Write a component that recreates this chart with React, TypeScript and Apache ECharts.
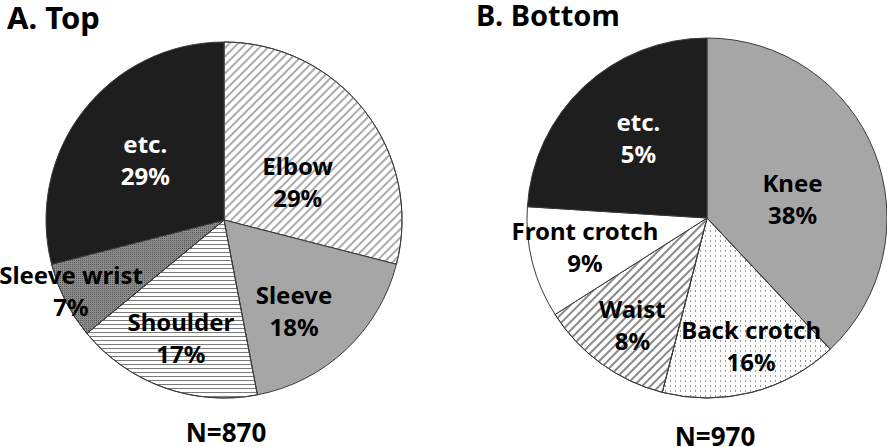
import React, { useEffect, useRef } from "react";
import * as echarts from "echarts";

// ---- data ----
const topNames = ["Elbow", "Sleeve", "Shoulder", "Sleeve wrist", "etc."];
const topShare = [29, 18, 17, 7, 29];
const topPercentLabels = ["29%", "18%", "17%", "7%", "29%"];

const bottomNames = ["Knee", "Back crotch", "Waist", "Front crotch", "etc."];
// slice sizes as drawn in the picture
const bottomShare = [38, 16, 12, 10, 24];
// percentages as printed on the picture
const bottomPercentLabels = ["38%", "16%", "8%", "9%", "5%"];

const titles = ["A. Top", "B. Bottom"];
const sampleSizes = ["N=870", "N=970"];

// ---- styles ----
const FONT = "'Noto Sans', 'Open Sans', sans-serif";

const diagDecal = (color: string) => ({
  symbol: "rect",
  symbolSize: 1,
  color,
  dashArrayX: [1, 0],
  dashArrayY: [1.1, 3.4],
  rotation: -Math.PI / 4,
  maxTileWidth: 512,
  maxTileHeight: 512,
});
const hLineDecal = {
  symbol: "rect",
  symbolSize: 1,
  color: "#7a7a7a",
  dashArrayX: [1, 0],
  dashArrayY: [1, 3],
  rotation: 0,
};
const sparseDotDecal = {
  symbol: "rect",
  symbolSize: 1,
  color: "#9a9a9a",
  dashArrayX: [1, 3.5],
  dashArrayY: [1.5, 3],
  rotation: 0,
};
const denseDotDecal = {
  symbol: "rect",
  symbolSize: 1,
  color: "#555555",
  dashArrayX: [1, 1],
  dashArrayY: [1, 1],
  rotation: 0,
};

const topStyles = [
  { color: "#ffffff", decal: diagDecal("#ababab") },
  { color: "#a6a6a6" },
  { color: "#ffffff", decal: hLineDecal },
  { color: "#8c8c8c", decal: denseDotDecal },
  { color: "#1e1e1e" },
];
const bottomStyles = [
  { color: "#a6a6a6" },
  { color: "#ffffff", decal: sparseDotDecal },
  { color: "#ffffff", decal: diagDecal("#8a8a8a") },
  { color: "#ffffff" },
  { color: "#1e1e1e" },
];
const topLabelColors = ["#000", "#000", "#000", "#000", "#fff"];
const bottomLabelColors = ["#000", "#000", "#000", "#000", "#fff"];

// label offsets from the default inside position
const topLabelShift = [
  [1, 18],
  [7, 23],
  [-12, 31],
  [-71, 29],
  [-6, -4],
];
const bottomLabelShift = [
  [-1, 15],
  [21, 37],
  [-20, 31],
  [-32, 5],
  [-5, -13],
];

function buildSeries(
  names: string[],
  share: number[],
  pct: string[],
  styles: any[],
  labelColors: string[],
  shift: number[][],
  center: number[],
  radius: number
) {
  return {
    type: "pie",
    center,
    radius,
    startAngle: 90,
    clockwise: true,
    avoidLabelOverlap: false,
    silent: true,
    itemStyle: { borderColor: "#3a3a3a", borderWidth: 1 },
    label: {
      show: true,
      position: "inside",
      fontFamily: FONT,
      fontWeight: "bold",
      fontSize: 24,
      lineHeight: 32,
      align: "center",
    },
    labelLine: { show: false },
    labelLayout: (p: any) => ({ dx: shift[p.dataIndex][0], dy: shift[p.dataIndex][1] }),
    data: names.map((n, i) => ({
      name: n,
      value: share[i],
      itemStyle: styles[i],
      label: {
        formatter: `${n}\n${pct[i]}`,
        color: labelColors[i],
      },
    })),
  };
}

export default function App() {
  const ref = useRef<HTMLDivElement>(null);
  useEffect(() => {
    if (!ref.current) return;
    const chart = echarts.init(ref.current, undefined, { renderer: "svg" });
    chart.setOption({
      animation: false,
      backgroundColor: "#ffffff",
      title: [
        {
          text: titles[0],
          left: 7,
          top: 1,
          padding: 0,
          textStyle: { fontFamily: FONT, fontWeight: "bold", fontSize: 31, color: "#000" },
        },
        {
          text: titles[1],
          left: 476,
          top: 0,
          padding: 0,
          textStyle: { fontFamily: FONT, fontWeight: "bold", fontSize: 29, color: "#000" },
        },
        {
          text: sampleSizes[0],
          left: 226,
          textAlign: "center",
          top: 419,
          padding: 0,
          textStyle: { fontFamily: FONT, fontWeight: "bold", fontSize: 26, color: "#000" },
        },
        {
          text: sampleSizes[1],
          left: 715,
          textAlign: "center",
          top: 423,
          padding: 0,
          textStyle: { fontFamily: FONT, fontWeight: "bold", fontSize: 26, color: "#000" },
        },
      ],
      series: [
        buildSeries(topNames, topShare, topPercentLabels, topStyles, topLabelColors, topLabelShift, [224, 220], 178),
        buildSeries(
          bottomNames,
          bottomShare,
          bottomPercentLabels,
          bottomStyles,
          bottomLabelColors,
          bottomLabelShift,
          [707, 218],
          180
        ),
      ],
    });
    return () => chart.dispose();
  }, []);
  return (
    <div
      ref={ref}
      style={{ position: "fixed", left: 0, top: 0, width: 887, height: 447 }}
    />
  );
}
